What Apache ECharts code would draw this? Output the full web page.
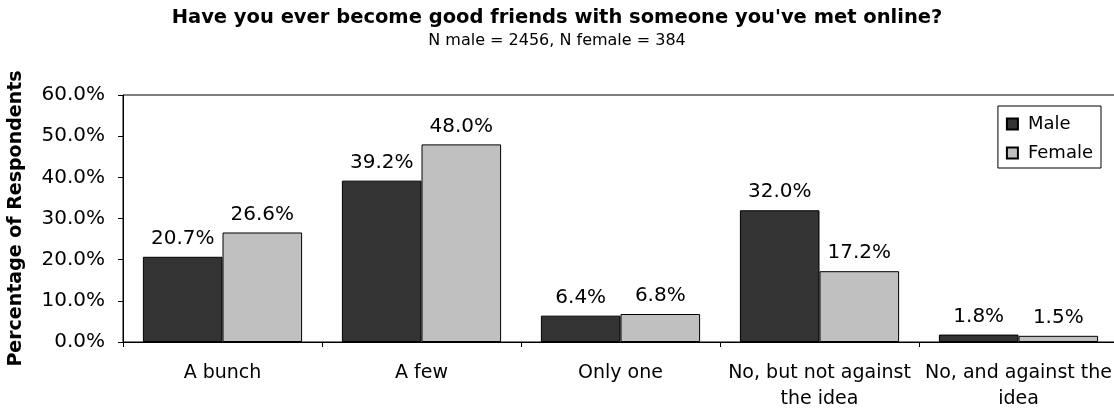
<!DOCTYPE html>
<html><head><meta charset="utf-8">
<script src="https://cdn.jsdelivr.net/npm/echarts@6/dist/echarts.min.js"></script>
<style>html,body{margin:0;padding:0;background:#fff}#c{width:1114px;height:410px}</style>
</head><body><div id="c"></div>
<script>
const categories = ["A bunch", "A few", "Only one", "No, but not against\nthe idea", "No, and against the\nidea"];
const maleValues = [20.7, 39.2, 6.4, 32.0, 1.8];
const femaleValues = [26.6, 48.0, 6.8, 17.2, 1.5];
const seriesNames = ["Male", "Female"];
const titleText = "Have you ever become good friends with someone you've met online?";
const subtitleText = "N male = 2456, N female = 384";
const yAxisName = "Percentage of Respondents";

const FONT = "DejaVu Sans";
const chart = echarts.init(document.getElementById('c'), null, {renderer: 'canvas'});
const pct = v => v.toFixed(1) + '%';
const labelCfg = {show: true, position: 'top', distance: 8, color: '#000', fontFamily: FONT, fontSize: 20, formatter: p => pct(p.value)};
chart.setOption({
  animation: false,
  backgroundColor: '#fff',
  textStyle: {fontFamily: FONT},
  title: {
    text: titleText, subtext: subtitleText, left: 'center', top: 3, itemGap: 5,
    textStyle: {fontFamily: FONT, fontWeight: 'bold', fontSize: 19.5, color: '#000'},
    subtextStyle: {fontFamily: FONT, fontSize: 16, color: '#000'}
  },
  legend: {
    orient: 'vertical', right: 13, top: 106, data: seriesNames,
    backgroundColor: '#fff', borderColor: '#000', borderWidth: 1,
    padding: [9, 8, 6, 8], itemGap: 11, itemWidth: 11, itemHeight: 11, icon: 'rect',
    textStyle: {fontFamily: FONT, fontSize: 18, color: '#000', padding: [0, 0, 0, 5]}
  },
  grid: {left: 123, top: 95, width: 995, height: 247, outerBoundsMode: 'none', containLabel: false,
         show: true, borderColor: '#000', borderWidth: 1, backgroundColor: 'transparent'},
  xAxis: {
    type: 'category', data: categories,
    axisLine: {lineStyle: {color: '#000', width: 1}},
    axisTick: {show: true, length: 5, lineStyle: {color: '#000'}},
    axisLabel: {color: '#000', fontFamily: FONT, fontSize: 19, margin: 18, lineHeight: 26, interval: 0}
  },
  yAxis: {
    type: 'value', min: 0, max: 60, interval: 10,
    name: yAxisName, nameLocation: 'middle', nameRotate: 90, nameGap: 97,
    nameTextStyle: {fontFamily: FONT, fontWeight: 'bold', fontSize: 19, color: '#000'},
    axisLine: {show: true, lineStyle: {color: '#000', width: 1}},
    axisTick: {show: true, length: 5, lineStyle: {color: '#000'}},
    splitLine: {show: false},
    axisLabel: {color: '#000', fontFamily: FONT, fontSize: 20, margin: 18, formatter: v => pct(v)}
  },
  series: [
    {name: seriesNames[0], type: 'bar', data: maleValues, barGap: '0%', barCategoryGap: '20%',
     itemStyle: {color: '#333333', borderColor: '#000', borderWidth: 1}, label: labelCfg},
    {name: seriesNames[1], type: 'bar', data: femaleValues, barGap: '0%', barCategoryGap: '20%',
     itemStyle: {color: '#C0C0C0', borderColor: '#000', borderWidth: 1}, label: labelCfg}
  ]
});
</script></body></html>
